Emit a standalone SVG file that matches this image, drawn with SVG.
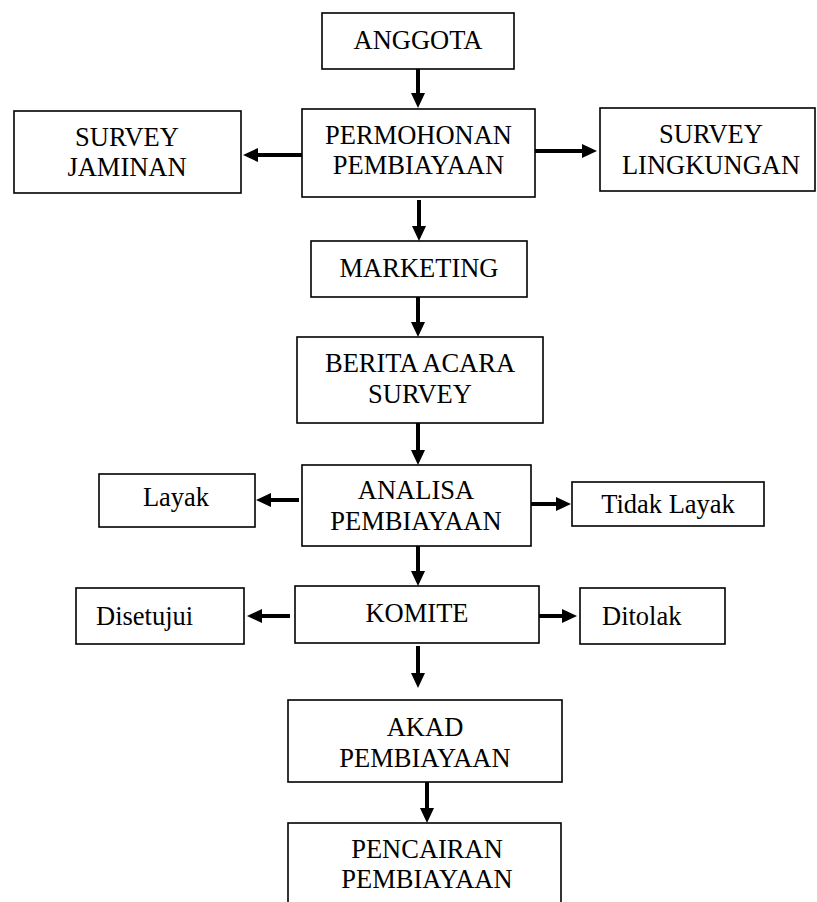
<svg xmlns="http://www.w3.org/2000/svg" width="817" height="902" viewBox="0 0 817 902">
<style>
  .box { fill: #ffffff; stroke: #000000; stroke-width: 1.6; }
  .t { font-family: "Liberation Serif", "Times New Roman", serif; font-size: 26.5px; fill: #000000; }
  .c { text-anchor: middle; }
  .edge { stroke: #000000; stroke-width: 4; fill: none; }
</style>
<defs>
  <marker id="ah" markerUnits="userSpaceOnUse" markerWidth="16" markerHeight="15" refX="0" refY="7" orient="auto" overflow="visible">
    <path d="M0,0 L15,7 L0,14 Z" fill="#000000"/>
  </marker>
</defs>
<rect width="817" height="902" fill="#ffffff"/>

<g id="connectors">
  <line class="edge" x1="418" y1="69" x2="418" y2="93" marker-end="url(#ah)"/>
  <line class="edge" x1="302" y1="155" x2="258" y2="155" marker-end="url(#ah)"/>
  <line class="edge" x1="535" y1="151" x2="582" y2="151" marker-end="url(#ah)"/>
  <line class="edge" x1="419" y1="200" x2="419" y2="226" marker-end="url(#ah)"/>
  <line class="edge" x1="418" y1="297" x2="418" y2="322" marker-end="url(#ah)"/>
  <line class="edge" x1="418" y1="423" x2="418" y2="450" marker-end="url(#ah)"/>
  <line class="edge" x1="299" y1="500" x2="271" y2="500" marker-end="url(#ah)"/>
  <line class="edge" x1="531" y1="504" x2="556" y2="504" marker-end="url(#ah)"/>
  <line class="edge" x1="418" y1="546" x2="418" y2="571" marker-end="url(#ah)"/>
  <line class="edge" x1="290" y1="616" x2="262" y2="616" marker-end="url(#ah)"/>
  <line class="edge" x1="538" y1="616" x2="562" y2="616" marker-end="url(#ah)"/>
  <line class="edge" x1="418" y1="646" x2="418" y2="673" marker-end="url(#ah)"/>
  <line class="edge" x1="427" y1="782" x2="427" y2="808" marker-end="url(#ah)"/>
</g>

<g id="anggota">
  <rect class="box" x="322" y="13" width="192" height="56"/>
  <text class="t c" x="418" y="49">ANGGOTA</text>
</g>
<g id="permohonan">
  <rect class="box" x="302" y="109" width="233" height="88"/>
  <text class="t c" x="418.5" y="144">PERMOHONAN</text>
  <text class="t c" x="418.5" y="174">PEMBIAYAAN</text>
</g>
<g id="survey-jaminan">
  <rect class="box" x="14" y="111" width="227" height="82"/>
  <text class="t c" x="127" y="146">SURVEY</text>
  <text class="t c" x="127" y="176">JAMINAN</text>
</g>
<g id="survey-lingkungan">
  <rect class="box" x="600" y="108" width="215" height="83"/>
  <text class="t c" x="711" y="143">SURVEY</text>
  <text class="t c" x="711" y="174">LINGKUNGAN</text>
</g>
<g id="marketing">
  <rect class="box" x="311" y="241" width="216" height="56"/>
  <text class="t c" x="419" y="277">MARKETING</text>
</g>
<g id="berita-acara">
  <rect class="box" x="297" y="337" width="246" height="86"/>
  <text class="t c" x="420" y="372">BERITA ACARA</text>
  <text class="t c" x="420" y="403">SURVEY</text>
</g>
<g id="analisa">
  <rect class="box" x="302" y="465" width="229" height="81"/>
  <text class="t c" x="416" y="499">ANALISA</text>
  <text class="t c" x="416" y="530">PEMBIAYAAN</text>
</g>
<g id="layak">
  <rect class="box" x="99" y="474" width="156" height="53"/>
  <text class="t c" x="176" y="506">Layak</text>
</g>
<g id="tidak-layak">
  <rect class="box" x="572" y="482" width="192" height="44"/>
  <text class="t c" x="668" y="513">Tidak Layak</text>
</g>
<g id="komite">
  <rect class="box" x="295" y="586" width="244" height="57"/>
  <text class="t c" x="417" y="622">KOMITE</text>
</g>
<g id="disetujui">
  <rect class="box" x="76" y="588" width="168" height="56"/>
  <text class="t" x="96" y="625">Disetujui</text>
</g>
<g id="ditolak">
  <rect class="box" x="580" y="588" width="145" height="56"/>
  <text class="t" x="602" y="625">Ditolak</text>
</g>
<g id="akad">
  <rect class="box" x="288" y="700" width="274" height="82"/>
  <text class="t c" x="425" y="736">AKAD</text>
  <text class="t c" x="425" y="767">PEMBIAYAAN</text>
</g>
<g id="pencairan">
  <rect class="box" x="288" y="823" width="273" height="90"/>
  <text class="t c" x="427" y="858">PENCAIRAN</text>
  <text class="t c" x="427" y="888">PEMBIAYAAN</text>
</g>
</svg>
